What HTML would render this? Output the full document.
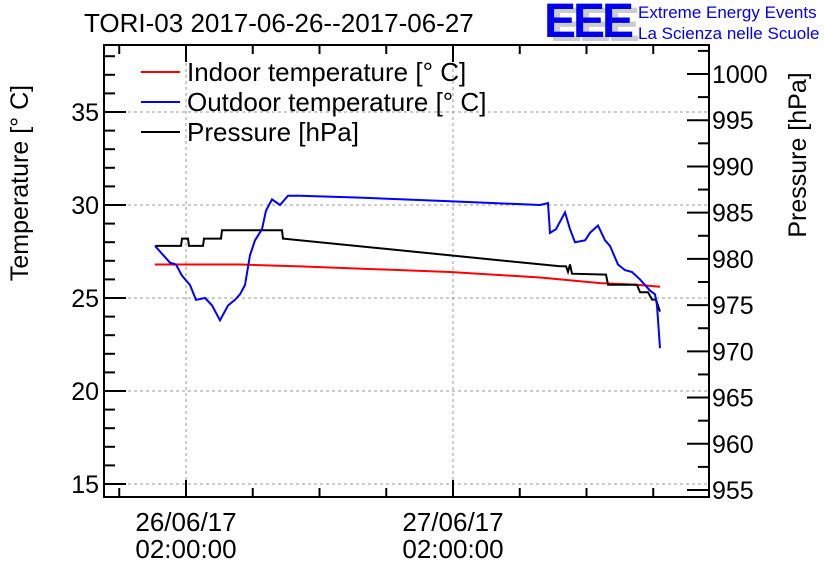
<!DOCTYPE html>
<html><head><meta charset="utf-8"><style>
body{margin:0;background:#fff;}
svg{display:block;font-family:"Liberation Sans",sans-serif;}
</style></head><body>
<svg id="chart" width="836" height="572" viewBox="0 0 836 572" xmlns="http://www.w3.org/2000/svg">
<rect width="836" height="572" fill="#fff"/>
<text x="84" y="32" font-size="26">TORI-03 2017-06-26--2017-06-27</text>
<g>
<text x="550" y="41" font-size="48" font-weight="bold" fill="#ccc" letter-spacing="-3">EEE</text>
<text x="544" y="37" font-size="48" font-weight="bold" fill="#0000ee" letter-spacing="-3">EEE</text>
<text x="638" y="18" font-size="17" fill="#0000ee">Extreme Energy Events</text>
<text x="638" y="39" font-size="17" fill="#0000ee">La Scienza nelle Scuole</text>
</g>
<g id="grid"></g>
<g id="axes"></g>
<g id="series"></g>
<g>
<line x1="141" y1="72" x2="180" y2="72" stroke="#f00" stroke-width="2"/>
<text x="187" y="81" font-size="26">Indoor temperature [° C]</text>
<line x1="141" y1="102" x2="180" y2="102" stroke="#00f" stroke-width="2"/>
<text x="187" y="111" font-size="26">Outdoor temperature [° C]</text>
<line x1="141" y1="132" x2="180" y2="132" stroke="#000" stroke-width="2"/>
<text x="187" y="141" font-size="26">Pressure [hPa]</text>
</g>
<text transform="translate(28,183) rotate(-90)" text-anchor="middle" font-size="25">Temperature [° C]</text>
<text transform="translate(806,155) rotate(-90)" text-anchor="middle" font-size="25">Pressure [hPa]</text>
</svg>
<script>
// hours since 26/06/17 02:00:00
const outdoorHours=[-2.79,-2.34,-1.44,-0.90,-0.36,0.36,0.90,1.71,2.34,3.06,3.78,4.40,4.85,5.30,5.75,6.20,6.83,7.19,7.73,8.45,9.17,10.25,15.64,23.73,31.82,32.54,32.72,33.26,34.07,34.52,34.97,35.87,36.31,37.03,37.66,38.11,38.83,39.46,40.09,40.81,41.71,42.16,42.34,42.61];
const outdoorTemp=[27.8,27.5,26.9,26.8,26.2,25.7,24.9,25.0,24.6,23.8,24.6,24.9,25.2,25.7,27.3,28.1,28.7,29.7,30.3,30.0,30.5,30.5,30.4,30.2,30.0,30.1,28.5,28.7,29.6,28.7,28.0,28.1,28.5,28.9,28.1,27.8,26.8,26.5,26.4,26.0,25.4,25.2,24.6,22.3];
const indoorHours=[-2.79,4.85,10.25,23.73,31.82,37.21,40.81,42.61];
const indoorTemp=[26.8,26.8,26.7,26.4,26.1,25.8,25.7,25.6];
const pressureHours=[-2.79,-0.45,-0.36,0.18,0.27,1.53,1.62,3.15,3.24,8.63,8.72,33.62,34.16,34.34,34.52,34.70,37.75,37.93,40.54,40.81,41.53,41.89,42.25,42.61];
const pressureVal=[981.4,981.4,982.2,982.2,981.4,981.4,982.2,982.2,983.1,983.1,982.2,979.2,979.2,978.6,979.4,978.4,978.3,977.2,977.2,976.4,976.4,975.6,975.6,974.3];
const leftTicks=[15,20,25,30,35];
const rightTicks=[955,960,965,970,975,980,985,990,995,1000];
const xTickLabels=[["26/06/17","02:00:00"],["27/06/17","02:00:00"]];
const xTickHours=[0,24];

const L=104,R=709,T=45,B=497;
const xS=h=>186+h*(267/24);
const yT=v=>484-(v-15)*18.6;
const yP=v=>490-(v-955)*(416/45);
const NS="http://www.w3.org/2000/svg";
function mk(tag,attrs,parent){const e=document.createElementNS(NS,tag);for(const k in attrs)e.setAttribute(k,attrs[k]);parent.appendChild(e);return e;}
const grid=document.getElementById('grid'),axes=document.getElementById('axes'),series=document.getElementById('series');
xTickHours.forEach(h=>{const g=mk('line',{x1:xS(h),x2:xS(h),y1:T,y2:B,stroke:'#999','stroke-dasharray':'3,3'},grid);

});
leftTicks.forEach(v=>{const g=mk('line',{x1:L,x2:R,y1:yT(v),y2:yT(v),stroke:'#999','stroke-dasharray':'3,3'},grid);

});
const fr=mk('rect',{x:L,y:T,width:R-L,height:B-T,fill:'none',stroke:'#000','stroke-width':2},axes);


for(let v=15;v<=38;v++){const maj=v%5===0;mk('line',{x1:L,x2:L+(maj?22:11),y1:yT(v),y2:yT(v),stroke:'#000','stroke-width':2},axes);}
leftTicks.forEach(v=>{const t=mk('text',{x:L-5,y:yT(v)+9,'text-anchor':'end','font-size':25},axes);t.textContent=v;

});
for(let v=955;v<=1003;v+=2.5){const maj=v%5===0;mk('line',{x1:R,x2:R-(maj?22:11),y1:yP(v),y2:yP(v),stroke:'#000','stroke-width':2},axes);}
rightTicks.forEach(v=>{const t=mk('text',{x:R+3,y:yP(v)+9,'font-size':25},axes);t.textContent=v;

});
for(let h=-12;h<=48;h+=6){const x=xS(h);if(x<L||x>R)continue;const maj=h%24===0;
mk('line',{x1:x,x2:x,y1:B,y2:B-(maj?17:9),stroke:'#000','stroke-width':2},axes);
mk('line',{x1:x,x2:x,y1:T,y2:T+(maj?17:9),stroke:'#000','stroke-width':2},axes);}
xTickHours.forEach((h,i)=>{[0,1].forEach(j=>{const t=mk('text',{x:xS(h),y:531+j*27,'text-anchor':'middle','font-size':26},axes);t.textContent=xTickLabels[i][j];

});});
function line(xs,ys,fy,col,name){const p=mk('polyline',{points:xs.map((h,i)=>xS(h).toFixed(1)+','+fy(ys[i]).toFixed(1)).join(' '),fill:'none',stroke:col,'stroke-width':2},series);

}
line(indoorHours,indoorTemp,yT,'#f00','indoor-temperature-line');
line(pressureHours,pressureVal,yP,'#000','pressure-line');
line(outdoorHours,outdoorTemp,yT,'#00f','outdoor-temperature-line');
</script>
</body></html>
